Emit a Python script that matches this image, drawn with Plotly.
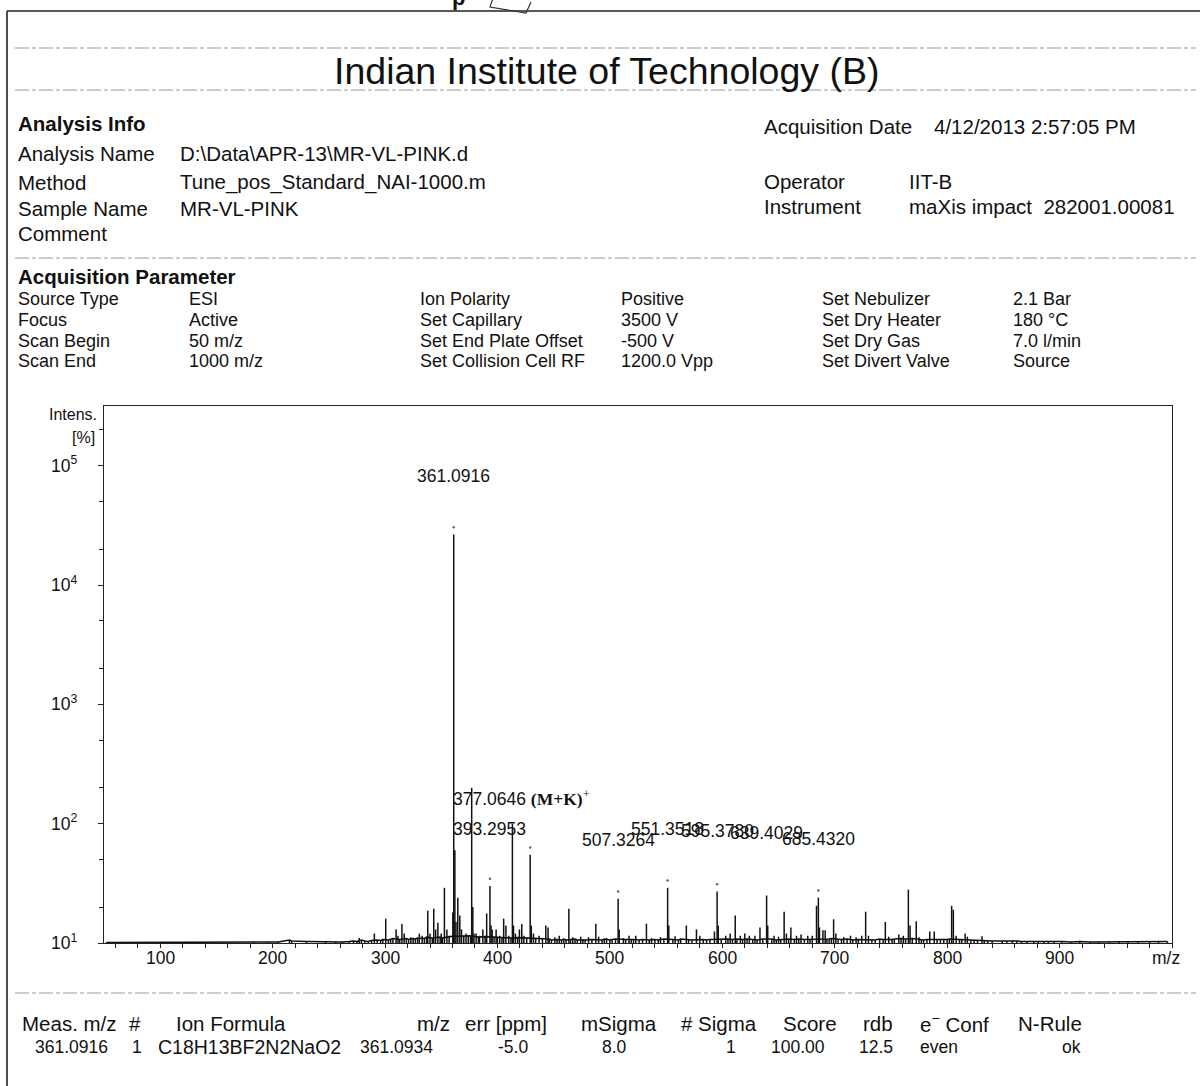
import plotly.graph_objects as go

# ---------------------------------------------------------------------------
# Spectrum data
# ---------------------------------------------------------------------------
# annotated peaks
label_mz = [361.0916, 377.0646, 393.2953, 507.3264, 551.3518, 595.3780, 639.4029, 685.4320]
label_int = [26500, 200, 30, 23.5, 29, 27, 25, 24]

# further resolved peaks
peak_mz = [277.0, 290.5, 300.6, 309.8, 311.5, 315.0, 317.0, 323.0, 330.5, 333.0,
           338.0, 340.0, 343.3, 345.0, 347.0, 350.0, 352.8, 355.0, 360.3, 362.094,
           363.09, 364.7, 366.5, 368.0, 370.0, 372.0, 374.0, 378.068, 379.07, 381.0,
           384.0, 387.0, 390.4, 394.3, 395.3, 398.8, 402.0, 405.5, 407.5, 410.0,
           413.27, 414.27, 416.0, 419.5, 421.6, 423.5, 429.09, 430.1, 432.0, 437.0,
           443.0, 445.0, 451.0, 455.0, 463.5, 467.0, 474.0, 481.0, 487.5, 490.0,
           497.0, 508.3, 512.0, 517.0, 523.0, 532.5, 537.0, 545.0, 552.4, 558.0,
           568.0, 577.0, 580.0, 593.0, 596.4, 603.0, 607.0, 611.5, 616.0, 620.0,
           624.0, 629.0, 633.5, 640.4, 646.0, 650.0, 655.0, 657.0, 661.0, 666.0,
           670.0, 676.0, 680.0, 683.8, 686.4, 689.5, 691.5, 699.0, 701.0, 708.0,
           714.0, 719.0, 724.0, 727.5, 730.0, 745.0, 748.0, 757.0, 761.0, 765.5,
           767.0, 772.5, 775.0, 784.5, 788.5, 804.0, 805.5, 808.0, 816.0, 818.0,
           831.0]
peak_int = [11.0, 12.0, 16.0, 13.0, 11.5, 14.4, 12.0, 11.2, 12.0, 11.5,
            18.6, 12.0, 19.4, 13.0, 14.8, 12.0, 29.0, 13.0, 18.0, 60.0,
            15.0, 24.0, 17.0, 13.0, 11.5, 12.0, 11.5, 20.0, 12.0, 12.0,
            11.5, 13.0, 17.7, 14.0, 13.0, 13.0, 11.5, 16.0, 14.0, 11.5,
            100.0, 14.0, 12.0, 13.0, 14.4, 11.5, 55.0, 14.0, 12.0, 11.5,
            14.0, 13.5, 11.2, 11.5, 19.4, 11.2, 11.3, 11.2, 14.5, 11.3,
            11.0, 13.0, 11.0, 11.5, 11.5, 14.5, 11.0, 11.2, 14.0, 11.4,
            14.0, 13.0, 11.5, 12.5, 14.0, 11.5, 12.0, 17.0, 11.5, 12.0,
            11.5, 11.5, 13.5, 14.0, 11.5, 11.3, 18.3, 12.0, 13.5, 11.5,
            11.8, 11.5, 11.5, 20.5, 13.5, 12.8, 12.8, 15.8, 12.0, 11.2,
            11.5, 11.2, 11.5, 18.3, 11.5, 15.0, 11.3, 11.8, 11.5, 28.0,
            14.0, 15.2, 11.2, 12.5, 12.5, 20.5, 19.0, 11.5, 12.0, 11.3,
            11.4]

# low-level baseline signal (profile between the peaks)
noise_mz = [52, 70, 95, 120, 150, 183, 196, 205, 215, 217,
            230, 247, 256, 262, 268, 272, 275, 279, 282, 285,
            288, 293, 296, 298, 303, 305, 307, 313, 319, 321,
            325, 327, 329, 335, 337, 342, 349, 351, 357, 376,
            383, 389, 397, 400, 404, 412, 418, 426, 434, 440,
            446, 448, 453, 457, 459, 461, 465, 469, 471, 476,
            478, 484, 493, 495, 500, 502, 505, 514, 519, 521,
            526, 529, 535, 540, 543, 548, 556, 561, 563, 570,
            573, 583, 586, 589, 599, 605, 609, 613, 618, 622,
            627, 631, 636, 644, 648, 652, 659, 664, 668, 673,
            678, 693, 695, 697, 703, 706, 711, 716, 721, 733,
            736, 740, 743, 751, 753, 759, 763, 769, 777, 779,
            782, 791, 794, 797, 800, 802, 811, 813, 821, 824,
            827, 833, 836, 840, 849, 853, 858, 862, 866, 871,
            877, 881, 886, 890, 895, 902, 910, 918, 927, 935,
            944, 953, 961, 970, 980, 988, 996]
noise_int = [10.1, 10.1, 10.1, 10.1, 10.1, 10.2, 10.2, 10.2, 10.6, 10.4,
             10.3, 10.2, 10.2, 10.2, 10.3, 10.4, 10.3, 10.6, 10.4, 10.3,
             10.5, 10.6, 10.5, 10.7, 10.6, 10.8, 10.9, 10.7, 10.9, 10.7,
             10.9, 10.8, 11.0, 10.9, 11.2, 11.0, 11.2, 11.0, 11.3, 11.5,
             11.2, 11.3, 11.2, 11.1, 11.2, 11.0, 11.1, 11.0, 11.0, 10.9,
             10.8, 10.6, 10.7, 10.6, 10.8, 10.6, 10.7, 10.8, 10.6, 10.7,
             10.6, 10.7, 10.6, 10.8, 10.6, 10.7, 10.8, 10.7, 10.8, 10.7,
             10.6, 10.7, 10.6, 10.7, 10.6, 10.8, 10.7, 10.6, 10.8, 10.7,
             10.6, 10.7, 10.6, 10.7, 10.8, 10.8, 10.7, 10.8, 10.7, 10.8,
             10.7, 10.6, 10.8, 10.8, 10.6, 10.7, 10.8, 10.7, 10.8, 10.7,
             10.7, 10.8, 10.8, 10.9, 10.8, 10.7, 10.8, 10.6, 10.7, 10.7,
             10.6, 10.8, 10.7, 10.7, 10.8, 10.9, 10.8, 10.9, 10.7, 10.6,
             10.7, 10.7, 10.6, 10.6, 10.7, 10.8, 10.7, 10.6, 10.6, 10.6,
             10.6, 10.5, 10.4, 10.4, 10.4, 10.4, 10.5, 10.4, 10.3, 10.3,
             10.4, 10.3, 10.3, 10.3, 10.3, 10.3, 10.2, 10.3, 10.2, 10.2,
             10.2, 10.2, 10.2, 10.3, 10.2, 10.2, 10.3]

# peaks carrying a centroid marker
marked_mz = [361.0916, 393.2953, 429.09, 507.3264, 551.3518, 595.3780, 685.4320]

# axis ticks
x_tick_vals = [100, 200, 300, 400, 500, 600, 700, 800, 900]
x_tick_text = ["100", "200", "300", "400", "500", "600", "700", "800", "900"]
y_tick_vals = [10, 100, 1000, 10000, 100000]
y_tick_text = ["10<sup>1</sup>", "10<sup>2</sup>", "10<sup>3</sup>", "10<sup>4</sup>", "10<sup>5</sup>"]
y_minor_vals = [20, 50, 200, 500, 2000, 5000, 20000, 50000, 200000]

# ---------------------------------------------------------------------------
# Page geometry (pixels) and helpers to place page text in paper coordinates
# ---------------------------------------------------------------------------
W, H = 1200, 1086
PL, PR, PT, PB = 104, 1172, 406, 943
FONT = "Liberation Sans, Arial, sans-serif"
INK = "#111111"
BASE = 10  # bottom of the intensity axis


def fx(px):
    return (px - PL) / (PR - PL)


def fy(py):
    return (PB - py) / (PB - PT)


fig = go.Figure()

# continuous baseline profile
fig.add_trace(go.Scatter(x=noise_mz, y=noise_int, mode="lines",
                         line=dict(color=INK, width=1.6),
                         hoverinfo="skip", showlegend=False))

# stick spectrum
all_mz = label_mz + peak_mz + noise_mz
all_int = label_int + peak_int + noise_int
xs, ys = [], []
for m, h in sorted(zip(all_mz, all_int)):
    xs += [m, m, None]
    ys += [BASE, h, None]
fig.add_trace(go.Scatter(x=xs, y=ys, mode="lines",
                         line=dict(color=INK, width=1.5),
                         hoverinfo="skip", showlegend=False))

# centroid markers just above selected peaks
lookup = dict(zip(all_mz, all_int))
fig.add_trace(go.Scatter(x=marked_mz, y=[lookup[m] * 1.15 for m in marked_mz],
                         mode="markers",
                         marker=dict(color="#666666", size=2.5),
                         hoverinfo="skip", showlegend=False))

annotations = []


def page_text(text, x, y, size, bold=False, anchor="left", family=FONT):
    if bold:
        text = "<b>" + text + "</b>"
    shift = {"left": -2, "right": 2, "center": 0}[anchor]
    annotations.append(dict(text=text, xref="paper", yref="paper", x=fx(x), y=fy(y),
                            xanchor=anchor, yanchor="middle", showarrow=False, xshift=shift,
                            font=dict(size=size, color=INK, family=family)))


# title block
page_text("Indian Institute of Technology (B)", 606, 71, 37.5, anchor="center")

# analysis info
page_text("Analysis Info", 18, 123, 20.5, bold=True)
info_rows = [("Analysis Name", "D:\\Data\\APR-13\\MR-VL-PINK.d", 153),
             ("Method", "Tune_pos_Standard_NAI-1000.m", 182),
             ("Sample Name", "MR-VL-PINK", 208),
             ("Comment", "", 234)]
for k, v, y in info_rows:
    page_text(k, 18, y, 20.5)
    if v:
        page_text(v, 180, y, 20.5)
page_text("Acquisition Date", 764, 126, 20.5)
page_text("4/12/2013 2:57:05 PM", 934, 126, 20.5)
page_text("Operator", 764, 181, 20.5)
page_text("IIT-B", 909, 181, 20.5)
page_text("Instrument", 764, 207, 20.5)
page_text("maXis impact&nbsp; 282001.00081", 909, 207, 20.5)

# acquisition parameters
page_text("Acquisition Parameter", 18, 276, 20.5, bold=True)
param_cols = [
    (18, ["Source Type", "Focus", "Scan Begin", "Scan End"]),
    (189, ["ESI", "Active", "50 m/z", "1000 m/z"]),
    (420, ["Ion Polarity", "Set Capillary", "Set End Plate Offset", "Set Collision Cell RF"]),
    (621, ["Positive", "3500 V", "-500 V", "1200.0 Vpp"]),
    (822, ["Set Nebulizer", "Set Dry Heater", "Set Dry Gas", "Set Divert Valve"]),
    (1013, ["2.1 Bar", "180 °C", "7.0 l/min", "Source"]),
]
param_rows_y = [299, 320, 341, 361]
for cx, items in param_cols:
    for t, y in zip(items, param_rows_y):
        page_text(t, cx, y, 18)

# axis captions
page_text("Intens.", 97, 414, 16, anchor="right")
page_text("[%]", 95, 437, 16, anchor="right")
page_text("m/z", 1180, 958, 17.5, anchor="right")

# formula table
header = [("Meas. m/z", 22, "left"), ("#", 135, "center"), ("Ion Formula", 176, "left"),
          ("m/z", 450, "right"), ("err [ppm]", 547, "right"), ("mSigma", 657, "right"),
          ("# Sigma", 757, "right"), ("Score", 837, "right"), ("rdb", 893, "right"),
          ("e<sup>\u2212</sup> Conf", 920, "left"), ("N-Rule", 1018, "left")]
for t, x, a in header:
    page_text(t, x, 1023, 20.5, anchor=a)
row = [("361.0916", 108, "right", 17.5), ("1", 137, "center", 17.5),
       ("C18H13BF2N2NaO2", 158, "left", 19.5), ("361.0934", 433, "right", 17.5),
       ("-5.0", 528, "right", 17.5), ("8.0", 627, "right", 17.5),
       ("1", 736, "right", 17.5), ("100.00", 825, "right", 17.5),
       ("12.5", 893, "right", 17.5), ("even", 920, "left", 17.5), ("ok", 1081, "right", 17.5)]
for t, x, a, s in row:
    page_text(t, x, 1047, s, anchor=a)

# partial heading cut off at the top edge
page_text("p", 452, -3, 22, bold=True)

# x tick labels placed just under the axis
for v, t in zip(x_tick_vals, x_tick_text):
    annotations.append(dict(text=t, xref="x", yref="paper", x=v, y=fy(958),
                            xanchor="center", yanchor="middle", showarrow=False,
                            font=dict(size=17.5, color=INK, family=FONT)))

# peak labels: x from the peak value, vertical placement in page pixels
label_y_px = [476, 798, 829, 840, 829, 831, 833, 839]
for m, ypx in zip(label_mz, label_y_px):
    if m == 377.0646:
        annotations.append(dict(
            text=f"{m:.4f} <span style='font-family:Liberation Serif, Times New Roman, serif'><b>(M+K)</b><sup>+</sup></span>",
            xref="x", yref="paper", x=m, y=fy(ypx), xanchor="left", yanchor="middle",
            xshift=-21, showarrow=False, font=dict(size=17.5, color=INK, family=FONT)))
    else:
        annotations.append(dict(
            text=f"{m:.4f}", xref="x", yref="paper", x=m, y=fy(ypx),
            xanchor="center", yanchor="middle", showarrow=False,
            font=dict(size=17.5, color=INK, family=FONT)))

# page rules and frame
shapes = []
for y in [48, 90, 258, 993]:
    shapes.append(dict(type="line", xref="paper", yref="paper",
                       x0=fx(15), x1=fx(1196), y0=fy(y), y1=fy(y),
                       line=dict(color="#9a9a9a", width=1.2, dash="14px,3px,4px,3px")))
shapes.append(dict(type="line", xref="paper", yref="paper",
                   x0=fx(7), x1=fx(1200), y0=fy(11), y1=fy(11),
                   line=dict(color="#222222", width=1.6)))
shapes.append(dict(type="line", xref="paper", yref="paper",
                   x0=fx(7), x1=fx(7), y0=fy(11), y1=fy(1090),
                   line=dict(color="#222222", width=1.6)))
shapes.append(dict(type="path", xref="paper", yref="paper",
                   path=f"M {fx(493)} {fy(-2)} L {fx(490)} {fy(7)} L {fx(526)} {fy(13)} L {fx(531)} {fy(2)}",
                   line=dict(color="#333333", width=1.2)))

fig.update_layout(
    width=W, height=H, autosize=False,
    margin=dict(l=PL, r=W - PR, t=PT, b=H - PB),
    paper_bgcolor="white", plot_bgcolor="white",
    font=dict(family=FONT, color=INK),
    annotations=annotations, shapes=shapes,
    showlegend=False,
)
fig.update_xaxes(range=[50, 1000], showgrid=False, zeroline=False,
                 showline=True, linecolor="#222222", linewidth=1.4, mirror=True,
                 ticks="outside", ticklen=4, tickcolor="#222222", tickwidth=1,
                 tickmode="array", tickvals=x_tick_vals, showticklabels=False,
                 minor=dict(dtick=20, tick0=0, ticks="outside", ticklen=4,
                            tickcolor="#222222", tickwidth=1, showgrid=False))
fig.update_yaxes(type="log", range=[1, 5.5], showgrid=False, zeroline=False,
                 showline=True, linecolor="#222222", linewidth=1.4, mirror=True,
                 ticks="outside", ticklen=5, tickcolor="#222222", tickwidth=1,
                 tickmode="array", tickvals=y_tick_vals, ticktext=y_tick_text,
                 tickfont=dict(size=17.5, family=FONT, color=INK),
                 ticklabelstandoff=17,
                 minor=dict(tickmode="array", tickvals=y_minor_vals, ticks="outside",
                            ticklen=4, tickcolor="#222222", tickwidth=1, showgrid=False))

fig.write_html("out.html")
